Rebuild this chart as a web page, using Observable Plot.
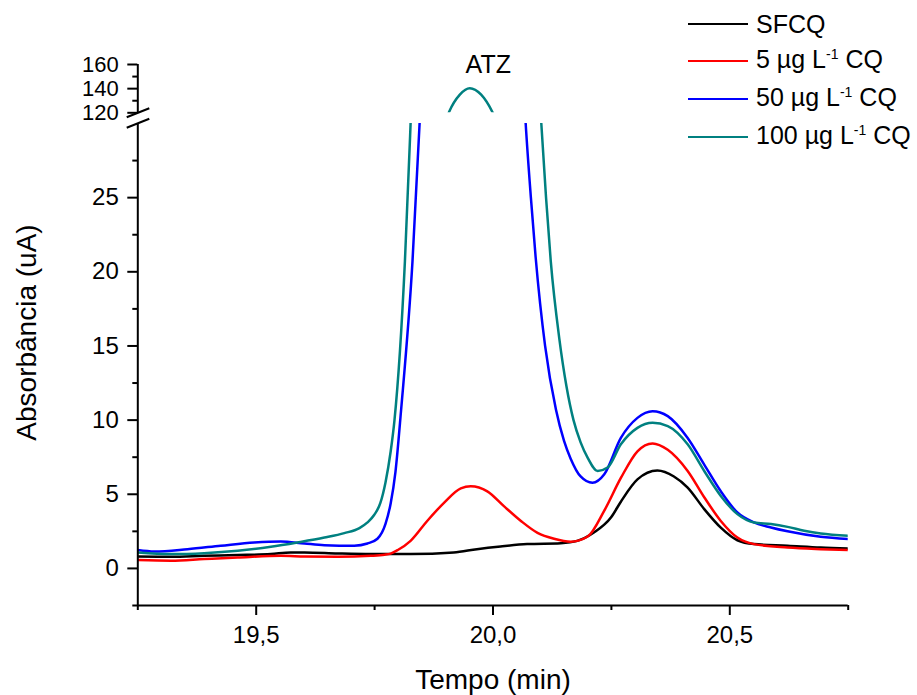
<!DOCTYPE html>
<html><head><meta charset="utf-8">
<script src="https://cdn.jsdelivr.net/npm/d3@7"></script>
<script src="https://cdn.jsdelivr.net/npm/@observablehq/plot@0.6"></script>
<style>
body{margin:0;background:#fff;font-family:"Liberation Sans",Arial,sans-serif;}
#chart{position:relative;width:917px;height:695px;overflow:hidden;background:#fff}
#chart svg{position:absolute;left:0;top:0}
.leg{position:absolute;left:688px;display:flex;align-items:center;height:30px;white-space:nowrap}
.sw{width:60px;height:0;border-top:2.5px solid;margin-right:8px}
.lt{font-size:25px;line-height:30px;color:#000}
.sup{font-size:14px;position:relative;top:-9px}
</style></head><body><div id="chart"></div>
<script>
// ---- data (time in min, absorbance in uA) ----
const seriesNames = ["SFCQ", "5 µg L-1 CQ", "50 µg L-1 CQ", "100 µg L-1 CQ"];
const seriesColors = ["#000000", "#ff0000", "#0000ff", "#008080"];
const legendMain = ["SFCQ", "5 µg L", "50 µg L", "100 µg L"];
const legendSup = ["", "-1", "-1", "-1"];
const legendTail = ["", " CQ", " CQ", " CQ"];

const timeSFCQ = [19.25, 19.32, 19.39, 19.461, 19.531, 19.573, 19.602, 19.672, 19.742, 19.826, 19.917, 19.966, 20.016, 20.072, 20.143, 20.178, 20.213, 20.249, 20.27, 20.305, 20.347, 20.382, 20.411, 20.446, 20.481, 20.516, 20.551, 20.622, 20.692, 20.75];
const absSFCQ  = [0.8, 0.79, 0.85, 0.9, 0.97, 1.08, 1.08, 1.01, 0.97, 0.97, 1.08, 1.3, 1.48, 1.64, 1.7, 1.86, 2.42, 3.43, 4.5, 6.0, 6.6, 6.2, 5.45, 4.0, 2.75, 1.9, 1.64, 1.53, 1.41, 1.35];

const time5 = [19.25, 19.32, 19.39, 19.461, 19.552, 19.602, 19.672, 19.742, 19.771, 19.784, 19.799, 19.826, 19.861, 19.897, 19.932, 19.953, 19.988, 20.023, 20.059, 20.094, 20.129, 20.164, 20.2, 20.235, 20.27, 20.305, 20.337, 20.369, 20.411, 20.446, 20.481, 20.516, 20.551, 20.622, 20.692, 20.75];
const abs5  = [0.56, 0.52, 0.63, 0.74, 0.85, 0.81, 0.79, 0.85, 0.92, 1.0, 1.24, 1.86, 3.2, 4.44, 5.4, 5.54, 5.2, 4.2, 3.2, 2.4, 2.0, 1.8, 2.15, 3.9, 6.1, 7.9, 8.43, 8.0, 6.57, 4.8, 3.2, 2.08, 1.64, 1.41, 1.3, 1.24];

const time50 = [19.25, 19.285, 19.355, 19.425, 19.496, 19.552, 19.602, 19.644, 19.707, 19.735, 19.756, 19.773, 19.784, 19.794, 19.806, 19.83, 19.845, 19.88, 19.92, 19.955, 19.99, 20.03, 20.069, 20.08, 20.09, 20.11, 20.133, 20.15, 20.164, 20.185, 20.21, 20.235, 20.27, 20.305, 20.337, 20.369, 20.411, 20.446, 20.481, 20.516, 20.551, 20.587, 20.622, 20.692, 20.75];
const abs50  = [1.24, 1.14, 1.3, 1.53, 1.75, 1.82, 1.68, 1.57, 1.53, 1.68, 2.0, 3.0, 4.4, 6.5, 10.7, 20.7, 30, 60, 95, 108, 95, 60, 30, 25, 21, 15, 10.7, 8.6, 7.4, 6.2, 5.78, 6.35, 8.8, 10.15, 10.6, 10.27, 8.8, 7.0, 5.2, 3.77, 3.1, 2.76, 2.5, 2.13, 1.98];

const time100 = [19.25, 19.32, 19.39, 19.461, 19.531, 19.587, 19.644, 19.686, 19.718, 19.735, 19.749, 19.762, 19.773, 19.784, 19.792, 19.814, 19.826, 19.86, 19.885, 19.907, 19.93, 19.951, 19.975, 19.999, 20.03, 20.065, 20.102, 20.112, 20.122, 20.14, 20.155, 20.17, 20.185, 20.2, 20.221, 20.242, 20.27, 20.305, 20.337, 20.369, 20.411, 20.446, 20.481, 20.516, 20.551, 20.587, 20.622, 20.657, 20.692, 20.75];
const abs100  = [1.08, 0.97, 1.03, 1.19, 1.46, 1.75, 2.08, 2.38, 2.72, 3.1, 3.6, 4.4, 5.8, 7.9, 10.0, 20.7, 30, 62, 95, 120.5, 135, 140.3, 135, 120.5, 90, 55, 30, 25, 20.7, 15.5, 12.3, 10.0, 8.5, 7.46, 6.57, 6.8, 8.37, 9.48, 9.82, 9.6, 8.37, 6.57, 4.89, 3.66, 3.1, 2.99, 2.8, 2.54, 2.35, 2.2];

// axis ticks
const xMajor = [19.5, 20.0, 20.5];
const xMinor = [19.25, 19.75, 20.25, 20.75];
const yLowMajor = [0, 5, 10, 15, 20, 25];
const yLowMinor = [-2.5, 2.5, 7.5, 12.5, 17.5, 22.5, 27.5];
const yHighMajor = [120, 140, 160];
const yHighMinor = [130, 150];
const xDomain = [19.25, 20.75];
const yLowDomain = [-2.5, 30];
const yHighDomain = [120, 160];
const peakLabel = ["ATZ"];
const peakLabelTime = [19.99];
const peakLabelAbs = [160];

// ---- build table ----
const seriesTimes = [timeSFCQ, time5, time50, time100];
const seriesAbs = [absSFCQ, abs5, abs50, abs100];
const rows = seriesNames.flatMap((name, k) => seriesTimes[k].map((t, i) => ({series: name, t, a: seriesAbs[k][i]})));
const labels = peakLabel.map((s, i) => ({s, t: peakLabelTime[i], a: peakLabelAbs[i]}));

const W = 917, H = 695;
const ML = 137.3, MR = 69.3;
const style = {fontFamily: "Liberation Sans, Arial, sans-serif", fontSize: "24px", background: "transparent", overflow: "visible", color: "#000"};
const fmtX = d => d.toFixed(1).replace(".", ",");
const color = {domain: seriesNames, range: seriesColors};

const lower = Plot.plot({
  width: W, height: H,
  marginLeft: ML, marginRight: MR, marginTop: 123, marginBottom: 90,
  x: {domain: xDomain},
  y: {domain: yLowDomain},
  color,
  style,
  marks: [
    Plot.line(rows, {x: "t", y: "a", z: "series", stroke: "series", curve: "monotone-x", strokeWidth: 2.5, clip: true}),
    Plot.ruleX([xDomain[0]], {strokeWidth: 2}),
    Plot.ruleY([yLowDomain[0]], {strokeWidth: 2}),
    Plot.axisY({ticks: yLowMajor, tickSize: 10, tickPadding: 9, fontSize: 24, strokeWidth: 2, label: null}),
    Plot.axisY({ticks: yLowMinor, tickSize: 5, tickFormat: () => "", strokeWidth: 2, label: null}),
    Plot.axisX({ticks: xMajor, tickSize: 10, tickPadding: 10, tickFormat: fmtX, fontSize: 24, strokeWidth: 2, label: null}),
    Plot.axisX({ticks: xMinor, tickSize: 5, tickFormat: () => "", strokeWidth: 2, label: null}),
    Plot.text(["Tempo (min)"], {frameAnchor: "bottom", dy: 83, lineAnchor: "bottom", fontSize: 28}),
    Plot.text(["Absorbância (uA)"], {frameAnchor: "left", textAnchor: "middle", rotate: -90, dx: -102.3, dy: -32, lineAnchor: "bottom", fontSize: 28})
  ]
});

const upper = Plot.plot({
  width: W, height: H,
  marginLeft: ML, marginRight: MR, marginTop: 64, marginBottom: H - 112.3,
  x: {domain: xDomain, axis: null},
  y: {domain: yHighDomain},
  color,
  style,
  marks: [
    Plot.line(rows, {x: "t", y: "a", z: "series", stroke: "series", curve: "monotone-x", strokeWidth: 2.5, clip: true}),
    Plot.ruleX([xDomain[0]], {strokeWidth: 2}),
    Plot.axisY({ticks: yHighMajor, tickSize: 10, tickPadding: 9, fontSize: 22, strokeWidth: 2, label: null}),
    Plot.axisY({ticks: yHighMinor, tickSize: 5, tickFormat: () => "", strokeWidth: 2, label: null}),
    Plot.text(labels, {x: "t", y: "a", text: "s", fontSize: 25, lineAnchor: "middle"})
  ]
});

const chart = document.getElementById("chart");
chart.appendChild(lower);
chart.appendChild(upper);

// axis break marks, placed from the scales
const bx = lower.scale("x").apply(xDomain[0]);
const yTopEdge = upper.scale("y").apply(yHighDomain[0]) + 0.8;
const yLowEdge = lower.scale("y").apply(yLowDomain[1]) + 0.5;
const brk = d3.select(upper);
for (const yy of [yTopEdge, yLowEdge]) {
  brk.append("line").attr("x1", bx - 10.6).attr("y1", yy + 4.2).attr("x2", bx + 12).attr("y2", yy - 4.8)
    .attr("stroke", "#000").attr("stroke-width", 2);
}

// legend
const legY = [24, 61, 99, 137];
seriesNames.forEach((name, i) => {
  const row = document.createElement("div");
  row.className = "leg";
  row.style.top = (legY[i] - 15) + "px";
  row.innerHTML = `<span class="sw" style="border-color:${seriesColors[i]}"></span><span class="lt">${legendMain[i]}${legendSup[i] ? `<span class="sup">${legendSup[i]}</span>` : ""}${legendTail[i]}</span>`;
  chart.appendChild(row);
});
</script></body></html>
